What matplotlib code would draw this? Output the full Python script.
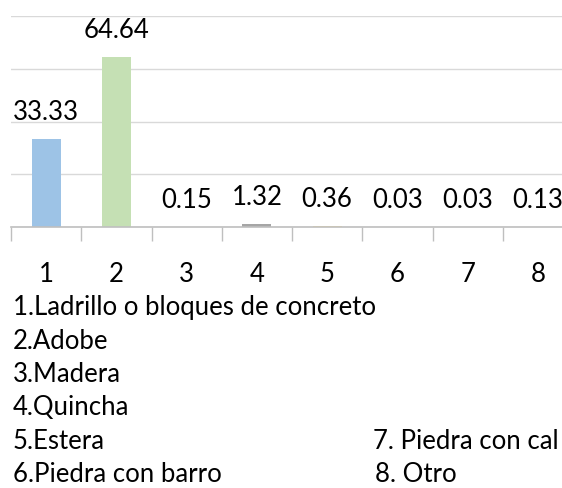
import matplotlib.pyplot as plt

# porcentaje de viviendas según material predominante en paredes
categorias = ['1', '2', '3', '4', '5', '6', '7', '8']
porcentajes = [33.33, 64.64, 0.15, 1.32, 0.36, 0.03, 0.03, 0.13]
colores = ['#9DC3E6', '#C5E0B4', '#F8CBAD', '#A6A6A6',
           '#FFE699', '#B4C7E7', '#C5E0B4', '#DBDBDB']

leyenda_izq = ['1.Ladrillo o bloques de concreto', '2.Adobe', '3.Madera',
               '4.Quincha', '5.Estera', '6.Piedra con barro']
leyenda_der = ['7. Piedra con cal', '8. Otro']

plt.rcParams['font.family'] = ['Lato', 'DejaVu Sans']


def main():
    fig = plt.figure(figsize=(5.62, 4.88), dpi=100)
    ax = fig.add_axes([11 / 562, 261 / 488, 562 / 562, 211 / 488])

    x = range(len(categorias))
    ax.bar(x, porcentajes, width=0.41, color=colores, zorder=3)

    # etiquetas de valor encima de cada barra
    for i, v in zip(x, porcentajes):
        ax.annotate(f'{v:.2f}', (i, v), xytext=(0, 19), textcoords='offset pixels',
                    ha='center', va='baseline', fontsize=18.5, color='#000000')

    ax.set_xlim(-0.5, len(categorias) - 0.5)
    ax.set_ylim(0, 80)
    ax.set_yticks([0, 20, 40, 60, 80])
    ax.set_yticklabels([])
    ax.tick_params(axis='y', length=0)
    ax.grid(axis='y', color='#D9D9D9', linewidth=1, zorder=0)

    # marcas del eje x entre categorías
    ax.set_xticks([i - 0.5 for i in range(len(categorias) + 1)], minor=False)
    ax.set_xticklabels([])
    ax.tick_params(axis='x', length=10, color='#BFBFBF', width=1, direction='out')
    ax.set_xticks(list(x), minor=True)
    ax.set_xticklabels(categorias, minor=True, fontsize=18.5)
    ax.tick_params(axis='x', which='minor', length=0, pad=25)

    for s in ['top', 'right', 'left']:
        ax.spines[s].set_visible(False)
    ax.spines['bottom'].set_color('#BFBFBF')
    ax.spines['bottom'].set_linewidth(1.2)
    ax.spines['bottom'].set_zorder(4)

    # leyenda de categorías en texto
    y0 = 308
    paso = 33.3
    fs = 18.5
    for k, t in enumerate(leyenda_izq):
        fig.text(13 / 562, 1 - (y0 + k * paso) / 488, t, fontsize=fs,
                 va='center', ha='left')
    fig.text(373 / 562, 1 - (y0 + 4 * paso) / 488, leyenda_der[0], fontsize=fs,
             va='center', ha='left')
    fig.text(375 / 562, 1 - (y0 + 5 * paso) / 488, leyenda_der[1], fontsize=fs,
             va='center', ha='left')

    fig.savefig('out.png', dpi=100)


if __name__ == '__main__':
    main()
